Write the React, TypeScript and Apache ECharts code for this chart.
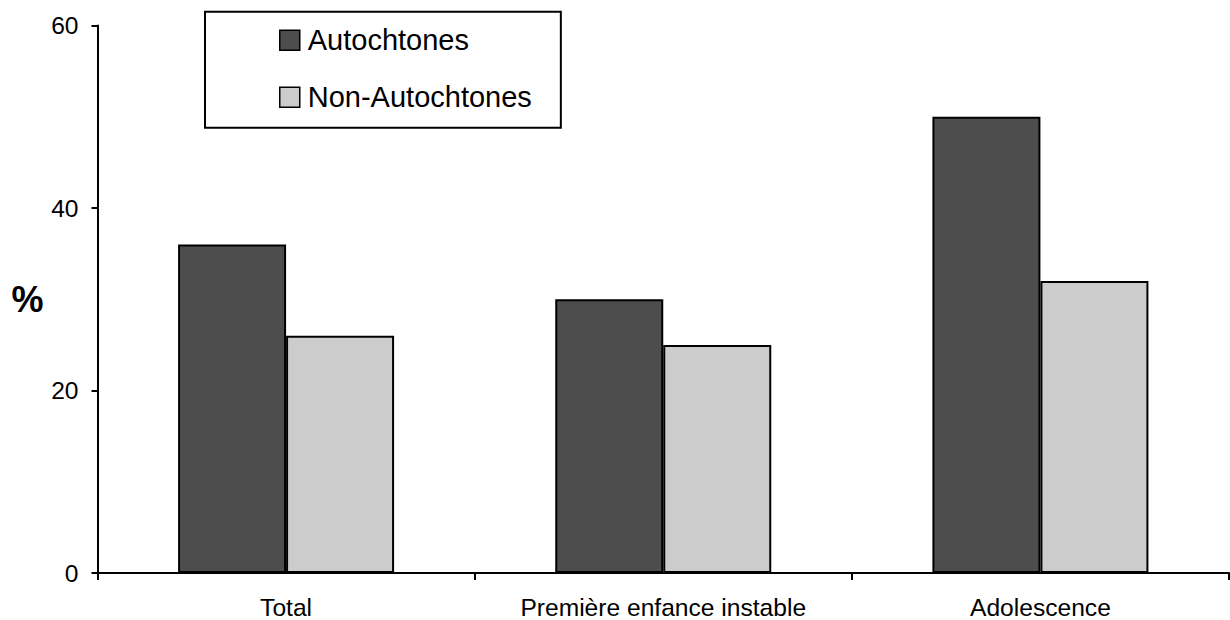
import React, { useEffect, useRef } from "react";
import * as echarts from "echarts";

// Share of respondents (%) by period, for two population groups
const categories = ["Total", "Première enfance instable", "Adolescence"];
const autochtones = [36, 30, 50];
const nonAutochtones = [26, 25, 32];
const yTicks = [0, 20, 40, 60];

const FONT = "'Liberation Sans', Arial, Helvetica, sans-serif";

export default function App() {
  const ref = useRef<HTMLDivElement>(null);

  useEffect(() => {
    if (!ref.current) return;
    const chart = echarts.init(ref.current, undefined, { renderer: "svg" });
    chart.setOption({
      animation: false,
      backgroundColor: "#ffffff",
      textStyle: { fontFamily: FONT, color: "#000" },
      grid: { left: 97.5, right: 1, top: 25.5, bottom: 45 },
      legend: {
        orient: "vertical",
        left: 205,
        top: 11.7,
        padding: [14, 29, 16, 74],
        itemWidth: 20,
        itemHeight: 20,
        itemGap: 28,
        icon: "rect",
        borderColor: "#000",
        borderWidth: 2,
        borderRadius: 0,
        itemStyle: { borderColor: "#000", borderWidth: 1.5 },
        textStyle: { fontSize: 29, fontFamily: FONT, color: "#000", padding: [0, 0, 0, 3] },
        data: ["Autochtones", "Non-Autochtones"],
      },
      xAxis: {
        type: "category",
        data: categories,
        boundaryGap: true,
        axisLine: { lineStyle: { color: "#000", width: 2 } },
        axisTick: { show: true, interval: 0, length: 7, lineStyle: { color: "#000", width: 2 } },
        axisLabel: { fontSize: 24.6, fontFamily: FONT, color: "#000", margin: 22, interval: 0 },
        splitLine: { show: false },
      },
      yAxis: {
        type: "value",
        min: yTicks[0],
        max: yTicks[yTicks.length - 1],
        interval: yTicks[1] - yTicks[0],
        name: "%",
        nameLocation: "middle",
        nameRotate: 0,
        nameGap: 54,
        nameTextStyle: { fontSize: 36, fontWeight: "bold", fontFamily: FONT, color: "#000" },
        axisLine: { show: true, lineStyle: { color: "#000", width: 2 } },
        axisTick: { show: true, length: 6, lineStyle: { color: "#000", width: 2 } },
        axisLabel: { fontSize: 24.6, fontFamily: FONT, color: "#000", margin: 19 },
        splitLine: { show: false },
      },
      series: [
        {
          name: "Autochtones",
          type: "bar",
          data: autochtones,
          barWidth: 108,
          barGap: "0%",
          itemStyle: { color: "#4d4d4d", borderColor: "#000", borderWidth: 2 },
        },
        {
          name: "Non-Autochtones",
          type: "bar",
          data: nonAutochtones,
          barWidth: 108,
          barGap: "0%",
          itemStyle: { color: "#cccccc", borderColor: "#000", borderWidth: 2 },
        },
      ],
    });
    return () => chart.dispose();
  }, []);

  return (
    <div
      ref={ref}
      style={{ position: "fixed", left: 0, top: 0, width: 1230, height: 620, background: "#fff" }}
    />
  );
}
